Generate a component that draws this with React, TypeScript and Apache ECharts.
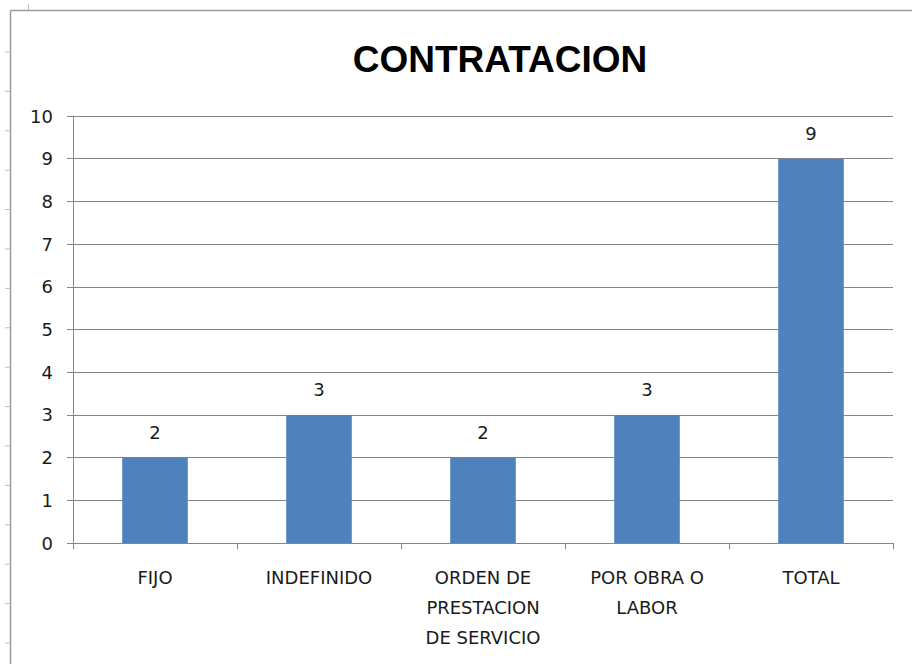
import React, { useEffect, useRef } from "react";
import * as echarts from "echarts";

const categories = ["FIJO", "INDEFINIDO", "ORDEN DE\nPRESTACION\nDE SERVICIO", "POR OBRA O\nLABOR", "TOTAL"];
const values = [2, 3, 2, 3, 9];
const titleText = "CONTRATACION";

export default function App() {
  const ref = useRef<HTMLDivElement>(null);
  useEffect(() => {
    const chart = echarts.init(ref.current!, null, { renderer: "svg" });
    const leftTicks: any[] = [];
    for (let i = 0; i < 16; i++) {
      const y = 52 + i * 39.4;
      leftTicks.push({ type: "line", shape: { x1: 5, y1: y, x2: 10, y2: y }, style: { stroke: "#bdbdbd", lineWidth: 1 } });
    }
    chart.setOption({
      animation: false,
      backgroundColor: "#ffffff",
      title: {
        text: titleText,
        left: 495,
        textAlign: "center",
        top: 36,
        textStyle: { fontFamily: "Liberation Sans", fontWeight: "bold", fontSize: 37, color: "#000" },
      },
      grid: { left: 73, right: 19, top: 116, bottom: 121 },
      xAxis: {
        type: "category",
        data: categories,
        axisLine: { lineStyle: { color: "#868686", width: 1 } },
        axisTick: { show: true, length: 6, alignWithLabel: false, lineStyle: { color: "#868686" } },
        axisLabel: {
          interval: 0,
          color: "#1a1a1a",
          fontFamily: "DejaVu Sans",
          fontSize: 18,
          lineHeight: 30,
          margin: 19,
        },
      },
      yAxis: {
        type: "value",
        min: 0,
        max: 10,
        interval: 1,
        axisLine: { show: true, lineStyle: { color: "#868686" } },
        axisTick: { show: true, length: 6, lineStyle: { color: "#868686" } },
        splitLine: { lineStyle: { color: "#868686", width: 1 } },
        axisLabel: { color: "#1a1a1a", fontFamily: "DejaVu Sans", fontSize: 18, margin: 20 },
      },
      series: [
        {
          type: "bar",
          data: values,
          barWidth: "40%",
          itemStyle: { color: "#4F81BD" },
          label: {
            show: true,
            position: "top",
            distance: 16,
            color: "#1a1a1a",
            fontFamily: "DejaVu Sans",
            fontSize: 18,
          },
        },
      ],
      graphic: [
        { type: "line", shape: { x1: 10.5, y1: 10.5, x2: 10.5, y2: 664 }, style: { stroke: "#9a9a9a", lineWidth: 1.5 } },
        { type: "line", shape: { x1: 10.5, y1: 10.5, x2: 912, y2: 10.5 }, style: { stroke: "#9a9a9a", lineWidth: 1.5 } },
        { type: "line", shape: { x1: 28.5, y1: 4, x2: 28.5, y2: 10 }, style: { stroke: "#bdbdbd", lineWidth: 1 } },
        ...leftTicks,
      ],
    });
    return () => chart.dispose();
  }, []);
  return <div ref={ref} style={{ position: "fixed", left: 0, top: 0, width: 912, height: 664 }} />;
}
